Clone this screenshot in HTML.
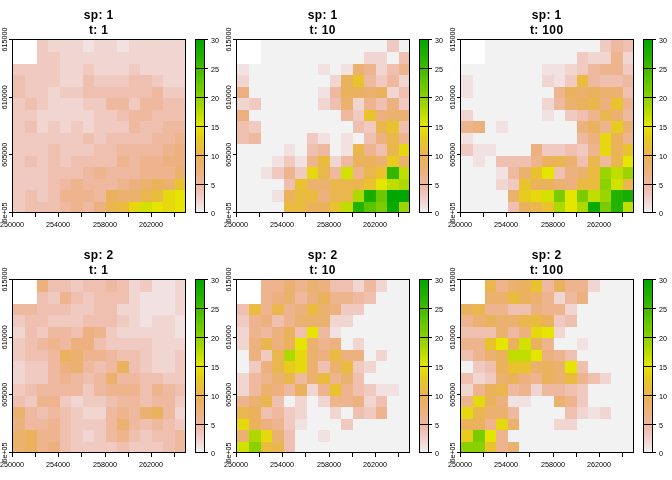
<!DOCTYPE html><html><head><meta charset="utf-8"><title>plot</title><style>html,body{margin:0;padding:0;background:#fff}svg{display:block}text{font-family:"Liberation Sans",Arial,sans-serif;fill:#000}.t{font-weight:bold;font-size:12px;text-anchor:middle;letter-spacing:0.35px}.a{font-size:7.2px;text-anchor:middle}.l{font-size:7.2px}</style></head><body>
<svg width="672" height="480" viewBox="0 0 672 480">
<rect width="672" height="480" fill="#fff"/>
<defs><linearGradient id="g" x1="0" y1="0" x2="0" y2="1"><stop offset="0.0000" stop-color="#00A600"/><stop offset="0.0333" stop-color="#0BAA00"/><stop offset="0.0667" stop-color="#17AE00"/><stop offset="0.1000" stop-color="#24B200"/><stop offset="0.1333" stop-color="#31B700"/><stop offset="0.1667" stop-color="#3EBB00"/><stop offset="0.2000" stop-color="#4CBF00"/><stop offset="0.2333" stop-color="#5BC400"/><stop offset="0.2667" stop-color="#6BC800"/><stop offset="0.3000" stop-color="#7ACC00"/><stop offset="0.3333" stop-color="#8BD000"/><stop offset="0.3667" stop-color="#9CD400"/><stop offset="0.4000" stop-color="#ADD900"/><stop offset="0.4333" stop-color="#C0DD00"/><stop offset="0.4667" stop-color="#D2E100"/><stop offset="0.5000" stop-color="#E5E500"/><stop offset="0.5333" stop-color="#E6D80F"/><stop offset="0.5667" stop-color="#E7CC1F"/><stop offset="0.6000" stop-color="#E8C32E"/><stop offset="0.6333" stop-color="#E9BB3E"/><stop offset="0.6667" stop-color="#EAB64E"/><stop offset="0.7000" stop-color="#EBB25E"/><stop offset="0.7333" stop-color="#EBB16E"/><stop offset="0.7667" stop-color="#ECB17E"/><stop offset="0.8000" stop-color="#EDB48E"/><stop offset="0.8333" stop-color="#EEB99F"/><stop offset="0.8667" stop-color="#EFC0AF"/><stop offset="0.9000" stop-color="#F0C9C0"/><stop offset="0.9333" stop-color="#F1D5D0"/><stop offset="0.9667" stop-color="#F1E2E1"/><stop offset="1.0000" stop-color="#F2F2F2"/></linearGradient></defs>
<g transform="translate(0,0)">
<text class="t" x="98.7" y="18.6">sp: 1</text>
<text class="t" x="98.7" y="33.5">t: 1</text>
<g shape-rendering="crispEdges">
<rect x="37" y="40" width="11" height="12" fill="#F0C9C0"/>
<rect x="48" y="40" width="35" height="12" fill="#F1D5D0"/>
<rect x="83" y="40" width="11" height="12" fill="#F1E2E1"/>
<rect x="94" y="40" width="23" height="12" fill="#F1D5D0"/>
<rect x="117" y="40" width="12" height="12" fill="#F1E2E1"/>
<rect x="129" y="40" width="57" height="12" fill="#F1D5D0"/>
<rect x="37" y="52" width="23" height="12" fill="#F0C9C0"/>
<rect x="60" y="52" width="126" height="12" fill="#F1D5D0"/>
<rect x="13" y="64" width="47" height="11" fill="#F0C9C0"/>
<rect x="60" y="64" width="23" height="11" fill="#F1D5D0"/>
<rect x="83" y="64" width="11" height="11" fill="#F0C9C0"/>
<rect x="94" y="64" width="35" height="11" fill="#F1D5D0"/>
<rect x="129" y="64" width="11" height="11" fill="#F0C9C0"/>
<rect x="140" y="64" width="46" height="11" fill="#F1D5D0"/>
<rect x="13" y="75" width="12" height="12" fill="#EFC0AF"/>
<rect x="25" y="75" width="35" height="12" fill="#F0C9C0"/>
<rect x="60" y="75" width="23" height="12" fill="#F1D5D0"/>
<rect x="83" y="75" width="11" height="12" fill="#EFC0AF"/>
<rect x="94" y="75" width="35" height="12" fill="#F0C9C0"/>
<rect x="129" y="75" width="23" height="12" fill="#EFC0AF"/>
<rect x="152" y="75" width="11" height="12" fill="#F0C9C0"/>
<rect x="163" y="75" width="23" height="12" fill="#F1D5D0"/>
<rect x="13" y="87" width="12" height="11" fill="#EFC0AF"/>
<rect x="25" y="87" width="23" height="11" fill="#F0C9C0"/>
<rect x="48" y="87" width="12" height="11" fill="#F1D5D0"/>
<rect x="60" y="87" width="23" height="11" fill="#F0C9C0"/>
<rect x="83" y="87" width="69" height="11" fill="#EFC0AF"/>
<rect x="152" y="87" width="11" height="11" fill="#EEB99F"/>
<rect x="163" y="87" width="23" height="11" fill="#F0C9C0"/>
<rect x="13" y="98" width="12" height="12" fill="#F0C9C0"/>
<rect x="25" y="98" width="12" height="12" fill="#EFC0AF"/>
<rect x="37" y="98" width="11" height="12" fill="#F0C9C0"/>
<rect x="48" y="98" width="35" height="12" fill="#F1D5D0"/>
<rect x="83" y="98" width="23" height="12" fill="#F0C9C0"/>
<rect x="106" y="98" width="23" height="12" fill="#EEB99F"/>
<rect x="129" y="98" width="11" height="12" fill="#F0C9C0"/>
<rect x="140" y="98" width="23" height="12" fill="#EEB99F"/>
<rect x="163" y="98" width="23" height="12" fill="#EFC0AF"/>
<rect x="13" y="110" width="24" height="11" fill="#F0C9C0"/>
<rect x="37" y="110" width="57" height="11" fill="#F1D5D0"/>
<rect x="94" y="110" width="23" height="11" fill="#F0C9C0"/>
<rect x="117" y="110" width="12" height="11" fill="#EFC0AF"/>
<rect x="129" y="110" width="23" height="11" fill="#EEB99F"/>
<rect x="152" y="110" width="34" height="11" fill="#EFC0AF"/>
<rect x="13" y="121" width="12" height="12" fill="#F0C9C0"/>
<rect x="25" y="121" width="12" height="12" fill="#EFC0AF"/>
<rect x="37" y="121" width="11" height="12" fill="#F1D5D0"/>
<rect x="48" y="121" width="12" height="12" fill="#F0C9C0"/>
<rect x="60" y="121" width="11" height="12" fill="#F1D5D0"/>
<rect x="71" y="121" width="12" height="12" fill="#F0C9C0"/>
<rect x="83" y="121" width="11" height="12" fill="#F1D5D0"/>
<rect x="94" y="121" width="35" height="12" fill="#F0C9C0"/>
<rect x="129" y="121" width="11" height="12" fill="#EEB99F"/>
<rect x="140" y="121" width="23" height="12" fill="#EFC0AF"/>
<rect x="163" y="121" width="23" height="12" fill="#EEB99F"/>
<rect x="13" y="133" width="70" height="11" fill="#F0C9C0"/>
<rect x="83" y="133" width="11" height="11" fill="#EFC0AF"/>
<rect x="94" y="133" width="12" height="11" fill="#F0C9C0"/>
<rect x="106" y="133" width="46" height="11" fill="#EFC0AF"/>
<rect x="152" y="133" width="23" height="11" fill="#EEB99F"/>
<rect x="175" y="133" width="11" height="11" fill="#EDB48E"/>
<rect x="13" y="144" width="35" height="12" fill="#F0C9C0"/>
<rect x="48" y="144" width="12" height="12" fill="#EFC0AF"/>
<rect x="60" y="144" width="34" height="12" fill="#F0C9C0"/>
<rect x="94" y="144" width="23" height="12" fill="#EFC0AF"/>
<rect x="117" y="144" width="46" height="12" fill="#EEB99F"/>
<rect x="163" y="144" width="12" height="12" fill="#EDB48E"/>
<rect x="175" y="144" width="11" height="12" fill="#ECB17E"/>
<rect x="13" y="156" width="12" height="11" fill="#F0C9C0"/>
<rect x="25" y="156" width="12" height="11" fill="#EFC0AF"/>
<rect x="37" y="156" width="11" height="11" fill="#F0C9C0"/>
<rect x="48" y="156" width="12" height="11" fill="#EFC0AF"/>
<rect x="60" y="156" width="11" height="11" fill="#F0C9C0"/>
<rect x="71" y="156" width="46" height="11" fill="#EFC0AF"/>
<rect x="117" y="156" width="12" height="11" fill="#EDB48E"/>
<rect x="129" y="156" width="11" height="11" fill="#EEB99F"/>
<rect x="140" y="156" width="23" height="11" fill="#EDB48E"/>
<rect x="163" y="156" width="23" height="11" fill="#ECB17E"/>
<rect x="13" y="167" width="35" height="12" fill="#F0C9C0"/>
<rect x="48" y="167" width="35" height="12" fill="#EFC0AF"/>
<rect x="83" y="167" width="11" height="12" fill="#EEB99F"/>
<rect x="94" y="167" width="12" height="12" fill="#EDB48E"/>
<rect x="106" y="167" width="34" height="12" fill="#EEB99F"/>
<rect x="140" y="167" width="35" height="12" fill="#EDB48E"/>
<rect x="175" y="167" width="11" height="12" fill="#EBB16E"/>
<rect x="13" y="179" width="35" height="11" fill="#F0C9C0"/>
<rect x="48" y="179" width="12" height="11" fill="#EFC0AF"/>
<rect x="60" y="179" width="11" height="11" fill="#EEB99F"/>
<rect x="71" y="179" width="12" height="11" fill="#EDB48E"/>
<rect x="83" y="179" width="34" height="11" fill="#EEB99F"/>
<rect x="117" y="179" width="12" height="11" fill="#EDB48E"/>
<rect x="129" y="179" width="11" height="11" fill="#ECB17E"/>
<rect x="140" y="179" width="12" height="11" fill="#EBB16E"/>
<rect x="152" y="179" width="11" height="11" fill="#EBB25E"/>
<rect x="163" y="179" width="12" height="11" fill="#EBB16E"/>
<rect x="175" y="179" width="11" height="11" fill="#E8C32E"/>
<rect x="13" y="190" width="12" height="12" fill="#F0C9C0"/>
<rect x="25" y="190" width="12" height="12" fill="#EFC0AF"/>
<rect x="37" y="190" width="11" height="12" fill="#F0C9C0"/>
<rect x="48" y="190" width="12" height="12" fill="#EFC0AF"/>
<rect x="60" y="190" width="34" height="12" fill="#EDB48E"/>
<rect x="94" y="190" width="12" height="12" fill="#EEB99F"/>
<rect x="106" y="190" width="11" height="12" fill="#EBB25E"/>
<rect x="117" y="190" width="23" height="12" fill="#EBB16E"/>
<rect x="140" y="190" width="12" height="12" fill="#EAB64E"/>
<rect x="152" y="190" width="11" height="12" fill="#E9BB3E"/>
<rect x="163" y="190" width="12" height="12" fill="#E6D80F"/>
<rect x="175" y="190" width="11" height="12" fill="#E5E500"/>
<rect x="13" y="202" width="12" height="11" fill="#F0C9C0"/>
<rect x="25" y="202" width="35" height="11" fill="#EFC0AF"/>
<rect x="60" y="202" width="11" height="11" fill="#EEB99F"/>
<rect x="71" y="202" width="12" height="11" fill="#EDB48E"/>
<rect x="83" y="202" width="11" height="11" fill="#EEB99F"/>
<rect x="94" y="202" width="12" height="11" fill="#ECB17E"/>
<rect x="106" y="202" width="11" height="11" fill="#EAB64E"/>
<rect x="117" y="202" width="12" height="11" fill="#E9BB3E"/>
<rect x="129" y="202" width="11" height="11" fill="#E6D80F"/>
<rect x="140" y="202" width="12" height="11" fill="#D2E100"/>
<rect x="152" y="202" width="11" height="11" fill="#E5E500"/>
<rect x="163" y="202" width="12" height="11" fill="#E6D80F"/>
<rect x="175" y="202" width="11" height="11" fill="#E5E500"/>
</g>
<rect x="12.5" y="39.5" width="173.0" height="173.0" fill="none" stroke="#000" stroke-width="1" shape-rendering="crispEdges"/>
<path d="M12.5 212V217M35.5 212V217M58.5 212V217M81.5 212V217M105.5 212V217M128.5 212V217M151.5 212V217M174.5 212V217M13 212.5H9M13 154.5H9M13 97.5H9M13 39.5H9" stroke="#000" stroke-width="1" fill="none" shape-rendering="crispEdges"/>
<text class="a" x="12.0" y="226.6">250000</text>
<text class="a" x="58.1" y="226.6">254000</text>
<text class="a" x="105.1" y="226.6">258000</text>
<text class="a" x="150.9" y="226.6">262000</text>
<text class="a" transform="translate(7.0,212.5) rotate(-90)">6e+05</text>
<text class="a" transform="translate(7.0,154.8) rotate(-90)">605000</text>
<text class="a" transform="translate(7.0,97.2) rotate(-90)">610000</text>
<text class="a" transform="translate(7.0,39.5) rotate(-90)">615000</text>
<rect x="195.5" y="39.5" width="9.0" height="173.0" fill="url(#g)" stroke="#000" stroke-width="1"/>
<text class="l" x="211" y="215.5">0</text>
<text class="l" x="211" y="187.5">5</text>
<text class="l" x="211" y="158.5">10</text>
<text class="l" x="211" y="129.5">15</text>
<text class="l" x="211" y="100.5">20</text>
<text class="l" x="211" y="71.5">25</text>
<text class="l" x="211" y="42.5">30</text>
<path d="M195.5 212.5H208M195.5 184.5H208M195.5 155.5H208M195.5 126.5H208M195.5 97.5H208M195.5 68.5H208M195.5 39.5H208" stroke="#000" stroke-width="1" fill="none" shape-rendering="crispEdges"/>
</g>
<g transform="translate(224,0)">
<text class="t" x="98.7" y="18.6">sp: 1</text>
<text class="t" x="98.7" y="33.5">t: 10</text>
<g shape-rendering="crispEdges">
<rect x="37" y="40" width="126" height="12" fill="#F2F2F2"/>
<rect x="163" y="40" width="12" height="12" fill="#F0C9C0"/>
<rect x="175" y="40" width="11" height="12" fill="#F2F2F2"/>
<rect x="37" y="52" width="103" height="12" fill="#F2F2F2"/>
<rect x="140" y="52" width="23" height="12" fill="#F1D5D0"/>
<rect x="163" y="52" width="12" height="12" fill="#F2F2F2"/>
<rect x="175" y="52" width="11" height="12" fill="#EFC0AF"/>
<rect x="13" y="64" width="12" height="11" fill="#F1E2E1"/>
<rect x="25" y="64" width="69" height="11" fill="#F2F2F2"/>
<rect x="94" y="64" width="12" height="11" fill="#F1E2E1"/>
<rect x="106" y="64" width="11" height="11" fill="#F2F2F2"/>
<rect x="117" y="64" width="12" height="11" fill="#F1E2E1"/>
<rect x="129" y="64" width="11" height="11" fill="#EBB16E"/>
<rect x="140" y="64" width="12" height="11" fill="#EDB48E"/>
<rect x="152" y="64" width="11" height="11" fill="#F1D5D0"/>
<rect x="163" y="64" width="12" height="11" fill="#EFC0AF"/>
<rect x="175" y="64" width="11" height="11" fill="#EDB48E"/>
<rect x="13" y="75" width="12" height="12" fill="#F1D5D0"/>
<rect x="25" y="75" width="81" height="12" fill="#F2F2F2"/>
<rect x="106" y="75" width="11" height="12" fill="#F1D5D0"/>
<rect x="117" y="75" width="12" height="12" fill="#EBB25E"/>
<rect x="129" y="75" width="11" height="12" fill="#E8C32E"/>
<rect x="140" y="75" width="12" height="12" fill="#EEB99F"/>
<rect x="152" y="75" width="11" height="12" fill="#F0C9C0"/>
<rect x="163" y="75" width="12" height="12" fill="#EEB99F"/>
<rect x="175" y="75" width="11" height="12" fill="#F1D5D0"/>
<rect x="13" y="87" width="12" height="11" fill="#ECB17E"/>
<rect x="25" y="87" width="69" height="11" fill="#F2F2F2"/>
<rect x="94" y="87" width="12" height="11" fill="#F1E2E1"/>
<rect x="106" y="87" width="11" height="11" fill="#EEB99F"/>
<rect x="117" y="87" width="23" height="11" fill="#EBB25E"/>
<rect x="140" y="87" width="12" height="11" fill="#EBB16E"/>
<rect x="152" y="87" width="11" height="11" fill="#EBB25E"/>
<rect x="163" y="87" width="12" height="11" fill="#F1D5D0"/>
<rect x="175" y="87" width="11" height="11" fill="#EFC0AF"/>
<rect x="13" y="98" width="12" height="12" fill="#F1D5D0"/>
<rect x="25" y="98" width="12" height="12" fill="#F0C9C0"/>
<rect x="37" y="98" width="57" height="12" fill="#F2F2F2"/>
<rect x="94" y="98" width="12" height="12" fill="#F1D5D0"/>
<rect x="106" y="98" width="11" height="12" fill="#EFC0AF"/>
<rect x="117" y="98" width="12" height="12" fill="#EBB16E"/>
<rect x="129" y="98" width="11" height="12" fill="#F1D5D0"/>
<rect x="140" y="98" width="12" height="12" fill="#EDB48E"/>
<rect x="152" y="98" width="11" height="12" fill="#EFC0AF"/>
<rect x="163" y="98" width="12" height="12" fill="#ECB17E"/>
<rect x="175" y="98" width="11" height="12" fill="#F0C9C0"/>
<rect x="13" y="110" width="12" height="11" fill="#ECB17E"/>
<rect x="25" y="110" width="92" height="11" fill="#F2F2F2"/>
<rect x="117" y="110" width="12" height="11" fill="#EEB99F"/>
<rect x="129" y="110" width="11" height="11" fill="#F0C9C0"/>
<rect x="140" y="110" width="12" height="11" fill="#E8C32E"/>
<rect x="152" y="110" width="11" height="11" fill="#ECB17E"/>
<rect x="163" y="110" width="23" height="11" fill="#EBB16E"/>
<rect x="13" y="121" width="12" height="12" fill="#EFC0AF"/>
<rect x="25" y="121" width="12" height="12" fill="#F0C9C0"/>
<rect x="37" y="121" width="92" height="12" fill="#F2F2F2"/>
<rect x="129" y="121" width="11" height="12" fill="#EFC0AF"/>
<rect x="140" y="121" width="12" height="12" fill="#F0C9C0"/>
<rect x="152" y="121" width="11" height="12" fill="#EAB64E"/>
<rect x="163" y="121" width="12" height="12" fill="#E8C32E"/>
<rect x="175" y="121" width="11" height="12" fill="#EFC0AF"/>
<rect x="13" y="133" width="12" height="11" fill="#EFC0AF"/>
<rect x="25" y="133" width="12" height="11" fill="#EEB99F"/>
<rect x="37" y="133" width="46" height="11" fill="#F2F2F2"/>
<rect x="83" y="133" width="11" height="11" fill="#F0C9C0"/>
<rect x="94" y="133" width="12" height="11" fill="#F1E2E1"/>
<rect x="106" y="133" width="11" height="11" fill="#F2F2F2"/>
<rect x="117" y="133" width="12" height="11" fill="#F1E2E1"/>
<rect x="129" y="133" width="11" height="11" fill="#F2F2F2"/>
<rect x="140" y="133" width="12" height="11" fill="#EFC0AF"/>
<rect x="152" y="133" width="11" height="11" fill="#ECB17E"/>
<rect x="163" y="133" width="12" height="11" fill="#EAB64E"/>
<rect x="175" y="133" width="11" height="11" fill="#EDB48E"/>
<rect x="13" y="144" width="47" height="12" fill="#F2F2F2"/>
<rect x="60" y="144" width="11" height="12" fill="#F1E2E1"/>
<rect x="71" y="144" width="12" height="12" fill="#F2F2F2"/>
<rect x="83" y="144" width="11" height="12" fill="#EFC0AF"/>
<rect x="94" y="144" width="12" height="12" fill="#EEB99F"/>
<rect x="106" y="144" width="11" height="12" fill="#F2F2F2"/>
<rect x="117" y="144" width="12" height="12" fill="#F1E2E1"/>
<rect x="129" y="144" width="11" height="12" fill="#EAB64E"/>
<rect x="140" y="144" width="12" height="12" fill="#EDB48E"/>
<rect x="152" y="144" width="11" height="12" fill="#EFC0AF"/>
<rect x="163" y="144" width="12" height="12" fill="#EAB64E"/>
<rect x="175" y="144" width="11" height="12" fill="#E6D80F"/>
<rect x="13" y="156" width="35" height="11" fill="#F2F2F2"/>
<rect x="48" y="156" width="12" height="11" fill="#F1E2E1"/>
<rect x="60" y="156" width="11" height="11" fill="#F0C9C0"/>
<rect x="71" y="156" width="12" height="11" fill="#F1E2E1"/>
<rect x="83" y="156" width="11" height="11" fill="#EDB48E"/>
<rect x="94" y="156" width="12" height="11" fill="#E9BB3E"/>
<rect x="106" y="156" width="11" height="11" fill="#F1D5D0"/>
<rect x="117" y="156" width="12" height="11" fill="#EEB99F"/>
<rect x="129" y="156" width="23" height="11" fill="#EBB25E"/>
<rect x="152" y="156" width="11" height="11" fill="#EBB16E"/>
<rect x="163" y="156" width="12" height="11" fill="#E7CC1F"/>
<rect x="175" y="156" width="11" height="11" fill="#EBB16E"/>
<rect x="13" y="167" width="24" height="12" fill="#F2F2F2"/>
<rect x="37" y="167" width="11" height="12" fill="#F1E2E1"/>
<rect x="48" y="167" width="12" height="12" fill="#F0C9C0"/>
<rect x="60" y="167" width="11" height="12" fill="#EDB48E"/>
<rect x="71" y="167" width="12" height="12" fill="#F0C9C0"/>
<rect x="83" y="167" width="11" height="12" fill="#E6D80F"/>
<rect x="94" y="167" width="12" height="12" fill="#EAB64E"/>
<rect x="106" y="167" width="11" height="12" fill="#EEB99F"/>
<rect x="117" y="167" width="12" height="12" fill="#D2E100"/>
<rect x="129" y="167" width="11" height="12" fill="#EDB48E"/>
<rect x="140" y="167" width="12" height="12" fill="#EAB64E"/>
<rect x="152" y="167" width="11" height="12" fill="#E8C32E"/>
<rect x="163" y="167" width="12" height="12" fill="#31B700"/>
<rect x="175" y="167" width="11" height="12" fill="#C0DD00"/>
<rect x="13" y="179" width="47" height="11" fill="#F2F2F2"/>
<rect x="60" y="179" width="11" height="11" fill="#EFC0AF"/>
<rect x="71" y="179" width="12" height="11" fill="#E8C32E"/>
<rect x="83" y="179" width="23" height="11" fill="#EBB16E"/>
<rect x="106" y="179" width="34" height="11" fill="#EAB64E"/>
<rect x="140" y="179" width="12" height="11" fill="#E8C32E"/>
<rect x="152" y="179" width="11" height="11" fill="#E5E500"/>
<rect x="163" y="179" width="12" height="11" fill="#C0DD00"/>
<rect x="175" y="179" width="11" height="11" fill="#ADD900"/>
<rect x="13" y="190" width="35" height="12" fill="#F2F2F2"/>
<rect x="48" y="190" width="12" height="12" fill="#F1E2E1"/>
<rect x="60" y="190" width="11" height="12" fill="#EBB25E"/>
<rect x="71" y="190" width="23" height="12" fill="#E9BB3E"/>
<rect x="94" y="190" width="12" height="12" fill="#ECB17E"/>
<rect x="106" y="190" width="23" height="12" fill="#EAB64E"/>
<rect x="129" y="190" width="11" height="12" fill="#ADD900"/>
<rect x="140" y="190" width="12" height="12" fill="#17AE00"/>
<rect x="152" y="190" width="11" height="12" fill="#6BC800"/>
<rect x="163" y="190" width="23" height="12" fill="#00A600"/>
<rect x="13" y="202" width="47" height="11" fill="#F2F2F2"/>
<rect x="60" y="202" width="23" height="11" fill="#E9BB3E"/>
<rect x="83" y="202" width="23" height="11" fill="#EBB25E"/>
<rect x="106" y="202" width="11" height="11" fill="#E8C32E"/>
<rect x="117" y="202" width="12" height="11" fill="#C0DD00"/>
<rect x="129" y="202" width="11" height="11" fill="#24B200"/>
<rect x="140" y="202" width="12" height="11" fill="#5BC400"/>
<rect x="152" y="202" width="11" height="11" fill="#7ACC00"/>
<rect x="163" y="202" width="12" height="11" fill="#0BAA00"/>
<rect x="175" y="202" width="11" height="11" fill="#9CD400"/>
</g>
<rect x="12.5" y="39.5" width="173.0" height="173.0" fill="none" stroke="#000" stroke-width="1" shape-rendering="crispEdges"/>
<path d="M12.5 212V217M35.5 212V217M58.5 212V217M81.5 212V217M105.5 212V217M128.5 212V217M151.5 212V217M174.5 212V217M13 212.5H9M13 154.5H9M13 97.5H9M13 39.5H9" stroke="#000" stroke-width="1" fill="none" shape-rendering="crispEdges"/>
<text class="a" x="12.0" y="226.6">250000</text>
<text class="a" x="58.1" y="226.6">254000</text>
<text class="a" x="105.1" y="226.6">258000</text>
<text class="a" x="150.9" y="226.6">262000</text>
<text class="a" transform="translate(7.0,212.5) rotate(-90)">6e+05</text>
<text class="a" transform="translate(7.0,154.8) rotate(-90)">605000</text>
<text class="a" transform="translate(7.0,97.2) rotate(-90)">610000</text>
<text class="a" transform="translate(7.0,39.5) rotate(-90)">615000</text>
<rect x="195.5" y="39.5" width="9.0" height="173.0" fill="url(#g)" stroke="#000" stroke-width="1"/>
<text class="l" x="211" y="215.5">0</text>
<text class="l" x="211" y="187.5">5</text>
<text class="l" x="211" y="158.5">10</text>
<text class="l" x="211" y="129.5">15</text>
<text class="l" x="211" y="100.5">20</text>
<text class="l" x="211" y="71.5">25</text>
<text class="l" x="211" y="42.5">30</text>
<path d="M195.5 212.5H208M195.5 184.5H208M195.5 155.5H208M195.5 126.5H208M195.5 97.5H208M195.5 68.5H208M195.5 39.5H208" stroke="#000" stroke-width="1" fill="none" shape-rendering="crispEdges"/>
</g>
<g transform="translate(448,0)">
<text class="t" x="98.7" y="18.6">sp: 1</text>
<text class="t" x="98.7" y="33.5">t: 100</text>
<g shape-rendering="crispEdges">
<rect x="37" y="40" width="115" height="12" fill="#F2F2F2"/>
<rect x="152" y="40" width="11" height="12" fill="#F0C9C0"/>
<rect x="163" y="40" width="12" height="12" fill="#EEB99F"/>
<rect x="175" y="40" width="11" height="12" fill="#EFC0AF"/>
<rect x="37" y="52" width="92" height="12" fill="#F2F2F2"/>
<rect x="129" y="52" width="11" height="12" fill="#F0C9C0"/>
<rect x="140" y="52" width="23" height="12" fill="#F1D5D0"/>
<rect x="163" y="52" width="12" height="12" fill="#EDB48E"/>
<rect x="175" y="52" width="11" height="12" fill="#F1D5D0"/>
<rect x="13" y="64" width="81" height="11" fill="#F2F2F2"/>
<rect x="94" y="64" width="23" height="11" fill="#F1E2E1"/>
<rect x="117" y="64" width="12" height="11" fill="#F1D5D0"/>
<rect x="129" y="64" width="11" height="11" fill="#F0C9C0"/>
<rect x="140" y="64" width="12" height="11" fill="#EEB99F"/>
<rect x="152" y="64" width="23" height="11" fill="#EDB48E"/>
<rect x="175" y="64" width="11" height="11" fill="#F0C9C0"/>
<rect x="13" y="75" width="12" height="12" fill="#F1E2E1"/>
<rect x="25" y="75" width="69" height="12" fill="#F2F2F2"/>
<rect x="94" y="75" width="12" height="12" fill="#F1D5D0"/>
<rect x="106" y="75" width="11" height="12" fill="#F1E2E1"/>
<rect x="117" y="75" width="12" height="12" fill="#F0C9C0"/>
<rect x="129" y="75" width="11" height="12" fill="#E9BB3E"/>
<rect x="140" y="75" width="12" height="12" fill="#EEB99F"/>
<rect x="152" y="75" width="23" height="12" fill="#EFC0AF"/>
<rect x="175" y="75" width="11" height="12" fill="#EEB99F"/>
<rect x="13" y="87" width="12" height="11" fill="#F1E2E1"/>
<rect x="25" y="87" width="81" height="11" fill="#F2F2F2"/>
<rect x="106" y="87" width="11" height="11" fill="#EDB48E"/>
<rect x="117" y="87" width="12" height="11" fill="#EBB25E"/>
<rect x="129" y="87" width="11" height="11" fill="#EBB16E"/>
<rect x="140" y="87" width="12" height="11" fill="#EBB25E"/>
<rect x="152" y="87" width="23" height="11" fill="#EBB16E"/>
<rect x="175" y="87" width="11" height="11" fill="#EFC0AF"/>
<rect x="13" y="98" width="81" height="12" fill="#F2F2F2"/>
<rect x="94" y="98" width="12" height="12" fill="#F1D5D0"/>
<rect x="106" y="98" width="11" height="12" fill="#EEB99F"/>
<rect x="117" y="98" width="12" height="12" fill="#EBB16E"/>
<rect x="129" y="98" width="11" height="12" fill="#EBB25E"/>
<rect x="140" y="98" width="12" height="12" fill="#EAB64E"/>
<rect x="152" y="98" width="11" height="12" fill="#ECB17E"/>
<rect x="163" y="98" width="12" height="12" fill="#E8C32E"/>
<rect x="175" y="98" width="11" height="12" fill="#EDB48E"/>
<rect x="13" y="110" width="12" height="11" fill="#F1D5D0"/>
<rect x="25" y="110" width="69" height="11" fill="#F2F2F2"/>
<rect x="94" y="110" width="12" height="11" fill="#F1E2E1"/>
<rect x="106" y="110" width="11" height="11" fill="#F2F2F2"/>
<rect x="117" y="110" width="12" height="11" fill="#F0C9C0"/>
<rect x="129" y="110" width="11" height="11" fill="#EFC0AF"/>
<rect x="140" y="110" width="12" height="11" fill="#EDB48E"/>
<rect x="152" y="110" width="11" height="11" fill="#EAB64E"/>
<rect x="163" y="110" width="12" height="11" fill="#EBB16E"/>
<rect x="175" y="110" width="11" height="11" fill="#EEB99F"/>
<rect x="13" y="121" width="12" height="12" fill="#EDB48E"/>
<rect x="25" y="121" width="12" height="12" fill="#ECB17E"/>
<rect x="37" y="121" width="11" height="12" fill="#F2F2F2"/>
<rect x="48" y="121" width="12" height="12" fill="#F1E2E1"/>
<rect x="60" y="121" width="69" height="12" fill="#F2F2F2"/>
<rect x="129" y="121" width="11" height="12" fill="#ECB17E"/>
<rect x="140" y="121" width="12" height="12" fill="#EBB25E"/>
<rect x="152" y="121" width="11" height="12" fill="#EDB48E"/>
<rect x="163" y="121" width="12" height="12" fill="#E7CC1F"/>
<rect x="175" y="121" width="11" height="12" fill="#EBB16E"/>
<rect x="13" y="133" width="12" height="11" fill="#F1E2E1"/>
<rect x="25" y="133" width="104" height="11" fill="#F2F2F2"/>
<rect x="129" y="133" width="11" height="11" fill="#EEB99F"/>
<rect x="140" y="133" width="12" height="11" fill="#ECB17E"/>
<rect x="152" y="133" width="11" height="11" fill="#E6D80F"/>
<rect x="163" y="133" width="12" height="11" fill="#EBB25E"/>
<rect x="175" y="133" width="11" height="11" fill="#EDB48E"/>
<rect x="13" y="144" width="12" height="12" fill="#F0C9C0"/>
<rect x="25" y="144" width="23" height="12" fill="#F1E2E1"/>
<rect x="48" y="144" width="35" height="12" fill="#F2F2F2"/>
<rect x="83" y="144" width="11" height="12" fill="#ECB17E"/>
<rect x="94" y="144" width="23" height="12" fill="#F0C9C0"/>
<rect x="117" y="144" width="12" height="12" fill="#EFC0AF"/>
<rect x="129" y="144" width="11" height="12" fill="#F0C9C0"/>
<rect x="140" y="144" width="12" height="12" fill="#EDB48E"/>
<rect x="152" y="144" width="11" height="12" fill="#E6D80F"/>
<rect x="163" y="144" width="12" height="12" fill="#EBB25E"/>
<rect x="175" y="144" width="11" height="12" fill="#E8C32E"/>
<rect x="13" y="156" width="12" height="11" fill="#F2F2F2"/>
<rect x="25" y="156" width="12" height="11" fill="#F1E2E1"/>
<rect x="37" y="156" width="11" height="11" fill="#F2F2F2"/>
<rect x="48" y="156" width="35" height="11" fill="#EFC0AF"/>
<rect x="83" y="156" width="11" height="11" fill="#EDB48E"/>
<rect x="94" y="156" width="12" height="11" fill="#EBB25E"/>
<rect x="106" y="156" width="11" height="11" fill="#EAB64E"/>
<rect x="117" y="156" width="12" height="11" fill="#EBB16E"/>
<rect x="129" y="156" width="11" height="11" fill="#EFC0AF"/>
<rect x="140" y="156" width="12" height="11" fill="#EAB64E"/>
<rect x="152" y="156" width="11" height="11" fill="#EEB99F"/>
<rect x="163" y="156" width="12" height="11" fill="#EAB64E"/>
<rect x="175" y="156" width="11" height="11" fill="#E5E500"/>
<rect x="13" y="167" width="35" height="12" fill="#F2F2F2"/>
<rect x="48" y="167" width="12" height="12" fill="#F1E2E1"/>
<rect x="60" y="167" width="11" height="12" fill="#EEB99F"/>
<rect x="71" y="167" width="12" height="12" fill="#EBB16E"/>
<rect x="83" y="167" width="11" height="12" fill="#E8C32E"/>
<rect x="94" y="167" width="12" height="12" fill="#E5E500"/>
<rect x="106" y="167" width="11" height="12" fill="#EFC0AF"/>
<rect x="117" y="167" width="12" height="12" fill="#ECB17E"/>
<rect x="129" y="167" width="11" height="12" fill="#EBB16E"/>
<rect x="140" y="167" width="12" height="12" fill="#E9BB3E"/>
<rect x="152" y="167" width="11" height="12" fill="#9CD400"/>
<rect x="163" y="167" width="12" height="12" fill="#C0DD00"/>
<rect x="175" y="167" width="11" height="12" fill="#9CD400"/>
<rect x="13" y="179" width="35" height="11" fill="#F2F2F2"/>
<rect x="48" y="179" width="12" height="11" fill="#F1D5D0"/>
<rect x="60" y="179" width="11" height="11" fill="#F0C9C0"/>
<rect x="71" y="179" width="12" height="11" fill="#E8C32E"/>
<rect x="83" y="179" width="23" height="11" fill="#EBB25E"/>
<rect x="106" y="179" width="11" height="11" fill="#EBB16E"/>
<rect x="117" y="179" width="12" height="11" fill="#ECB17E"/>
<rect x="129" y="179" width="23" height="11" fill="#E9BB3E"/>
<rect x="152" y="179" width="11" height="11" fill="#8BD000"/>
<rect x="163" y="179" width="12" height="11" fill="#D2E100"/>
<rect x="175" y="179" width="11" height="11" fill="#EAB64E"/>
<rect x="13" y="190" width="47" height="12" fill="#F2F2F2"/>
<rect x="60" y="190" width="11" height="12" fill="#EBB16E"/>
<rect x="71" y="190" width="12" height="12" fill="#E7CC1F"/>
<rect x="83" y="190" width="11" height="12" fill="#E6D80F"/>
<rect x="94" y="190" width="12" height="12" fill="#D2E100"/>
<rect x="106" y="190" width="11" height="12" fill="#7ACC00"/>
<rect x="117" y="190" width="12" height="12" fill="#E5E500"/>
<rect x="129" y="190" width="11" height="12" fill="#7ACC00"/>
<rect x="140" y="190" width="12" height="12" fill="#C0DD00"/>
<rect x="152" y="190" width="11" height="12" fill="#9CD400"/>
<rect x="163" y="190" width="12" height="12" fill="#24B200"/>
<rect x="175" y="190" width="11" height="12" fill="#17AE00"/>
<rect x="13" y="202" width="47" height="11" fill="#F2F2F2"/>
<rect x="60" y="202" width="11" height="11" fill="#EFC0AF"/>
<rect x="71" y="202" width="12" height="11" fill="#EBB25E"/>
<rect x="83" y="202" width="11" height="11" fill="#EAB64E"/>
<rect x="94" y="202" width="12" height="11" fill="#E8C32E"/>
<rect x="106" y="202" width="11" height="11" fill="#ADD900"/>
<rect x="117" y="202" width="12" height="11" fill="#E5E500"/>
<rect x="129" y="202" width="11" height="11" fill="#ADD900"/>
<rect x="140" y="202" width="12" height="11" fill="#0BAA00"/>
<rect x="152" y="202" width="11" height="11" fill="#7ACC00"/>
<rect x="163" y="202" width="12" height="11" fill="#24B200"/>
<rect x="175" y="202" width="11" height="11" fill="#C0DD00"/>
</g>
<rect x="12.5" y="39.5" width="173.0" height="173.0" fill="none" stroke="#000" stroke-width="1" shape-rendering="crispEdges"/>
<path d="M12.5 212V217M35.5 212V217M58.5 212V217M81.5 212V217M105.5 212V217M128.5 212V217M151.5 212V217M174.5 212V217M13 212.5H9M13 154.5H9M13 97.5H9M13 39.5H9" stroke="#000" stroke-width="1" fill="none" shape-rendering="crispEdges"/>
<text class="a" x="12.0" y="226.6">250000</text>
<text class="a" x="58.1" y="226.6">254000</text>
<text class="a" x="105.1" y="226.6">258000</text>
<text class="a" x="150.9" y="226.6">262000</text>
<text class="a" transform="translate(7.0,212.5) rotate(-90)">6e+05</text>
<text class="a" transform="translate(7.0,154.8) rotate(-90)">605000</text>
<text class="a" transform="translate(7.0,97.2) rotate(-90)">610000</text>
<text class="a" transform="translate(7.0,39.5) rotate(-90)">615000</text>
<rect x="195.5" y="39.5" width="9.0" height="173.0" fill="url(#g)" stroke="#000" stroke-width="1"/>
<text class="l" x="211" y="215.5">0</text>
<text class="l" x="211" y="187.5">5</text>
<text class="l" x="211" y="158.5">10</text>
<text class="l" x="211" y="129.5">15</text>
<text class="l" x="211" y="100.5">20</text>
<text class="l" x="211" y="71.5">25</text>
<text class="l" x="211" y="42.5">30</text>
<path d="M195.5 212.5H208M195.5 184.5H208M195.5 155.5H208M195.5 126.5H208M195.5 97.5H208M195.5 68.5H208M195.5 39.5H208" stroke="#000" stroke-width="1" fill="none" shape-rendering="crispEdges"/>
</g>
<g transform="translate(0,240)">
<text class="t" x="98.7" y="18.6">sp: 2</text>
<text class="t" x="98.7" y="33.5">t: 1</text>
<g shape-rendering="crispEdges">
<rect x="37" y="40" width="11" height="12" fill="#ECB17E"/>
<rect x="48" y="40" width="23" height="12" fill="#EFC0AF"/>
<rect x="71" y="40" width="12" height="12" fill="#F0C9C0"/>
<rect x="83" y="40" width="23" height="12" fill="#EFC0AF"/>
<rect x="106" y="40" width="11" height="12" fill="#EEB99F"/>
<rect x="117" y="40" width="12" height="12" fill="#EFC0AF"/>
<rect x="129" y="40" width="11" height="12" fill="#F1D5D0"/>
<rect x="140" y="40" width="12" height="12" fill="#F0C9C0"/>
<rect x="152" y="40" width="23" height="12" fill="#F1E2E1"/>
<rect x="175" y="40" width="11" height="12" fill="#F1D5D0"/>
<rect x="37" y="52" width="11" height="12" fill="#EFC0AF"/>
<rect x="48" y="52" width="12" height="12" fill="#F0C9C0"/>
<rect x="60" y="52" width="11" height="12" fill="#EDB48E"/>
<rect x="71" y="52" width="12" height="12" fill="#EFC0AF"/>
<rect x="83" y="52" width="11" height="12" fill="#F0C9C0"/>
<rect x="94" y="52" width="35" height="12" fill="#EFC0AF"/>
<rect x="129" y="52" width="11" height="12" fill="#F1D5D0"/>
<rect x="140" y="52" width="35" height="12" fill="#F1E2E1"/>
<rect x="175" y="52" width="11" height="12" fill="#F1D5D0"/>
<rect x="13" y="64" width="24" height="11" fill="#EEB99F"/>
<rect x="37" y="64" width="34" height="11" fill="#EFC0AF"/>
<rect x="71" y="64" width="23" height="11" fill="#F0C9C0"/>
<rect x="94" y="64" width="23" height="11" fill="#EFC0AF"/>
<rect x="117" y="64" width="23" height="11" fill="#F1D5D0"/>
<rect x="140" y="64" width="35" height="11" fill="#F1E2E1"/>
<rect x="175" y="64" width="11" height="11" fill="#F1D5D0"/>
<rect x="13" y="75" width="12" height="12" fill="#F0C9C0"/>
<rect x="25" y="75" width="23" height="12" fill="#EFC0AF"/>
<rect x="48" y="75" width="35" height="12" fill="#F0C9C0"/>
<rect x="83" y="75" width="34" height="12" fill="#EFC0AF"/>
<rect x="117" y="75" width="12" height="12" fill="#F0C9C0"/>
<rect x="129" y="75" width="11" height="12" fill="#F1D5D0"/>
<rect x="140" y="75" width="12" height="12" fill="#F1E2E1"/>
<rect x="152" y="75" width="23" height="12" fill="#F1D5D0"/>
<rect x="175" y="75" width="11" height="12" fill="#F1E2E1"/>
<rect x="13" y="87" width="12" height="11" fill="#F1D5D0"/>
<rect x="25" y="87" width="12" height="11" fill="#EFC0AF"/>
<rect x="37" y="87" width="11" height="11" fill="#F0C9C0"/>
<rect x="48" y="87" width="23" height="11" fill="#EEB99F"/>
<rect x="71" y="87" width="12" height="11" fill="#EFC0AF"/>
<rect x="83" y="87" width="11" height="11" fill="#ECB17E"/>
<rect x="94" y="87" width="12" height="11" fill="#EDB48E"/>
<rect x="106" y="87" width="11" height="11" fill="#F0C9C0"/>
<rect x="117" y="87" width="58" height="11" fill="#F1D5D0"/>
<rect x="175" y="87" width="11" height="11" fill="#F1E2E1"/>
<rect x="13" y="98" width="12" height="12" fill="#F0C9C0"/>
<rect x="25" y="98" width="12" height="12" fill="#EFC0AF"/>
<rect x="37" y="98" width="11" height="12" fill="#EEB99F"/>
<rect x="48" y="98" width="12" height="12" fill="#EDB48E"/>
<rect x="60" y="98" width="11" height="12" fill="#EEB99F"/>
<rect x="71" y="98" width="23" height="12" fill="#ECB17E"/>
<rect x="94" y="98" width="12" height="12" fill="#EFC0AF"/>
<rect x="106" y="98" width="46" height="12" fill="#F0C9C0"/>
<rect x="152" y="98" width="34" height="12" fill="#F1D5D0"/>
<rect x="13" y="110" width="12" height="11" fill="#F0C9C0"/>
<rect x="25" y="110" width="23" height="11" fill="#EFC0AF"/>
<rect x="48" y="110" width="12" height="11" fill="#EEB99F"/>
<rect x="60" y="110" width="11" height="11" fill="#EBB25E"/>
<rect x="71" y="110" width="12" height="11" fill="#EBB16E"/>
<rect x="83" y="110" width="23" height="11" fill="#EDB48E"/>
<rect x="106" y="110" width="11" height="11" fill="#EEB99F"/>
<rect x="117" y="110" width="23" height="11" fill="#EFC0AF"/>
<rect x="140" y="110" width="12" height="11" fill="#F0C9C0"/>
<rect x="152" y="110" width="23" height="11" fill="#F1D5D0"/>
<rect x="175" y="110" width="11" height="11" fill="#F0C9C0"/>
<rect x="13" y="121" width="12" height="12" fill="#F1D5D0"/>
<rect x="25" y="121" width="23" height="12" fill="#F0C9C0"/>
<rect x="48" y="121" width="12" height="12" fill="#EEB99F"/>
<rect x="60" y="121" width="11" height="12" fill="#ECB17E"/>
<rect x="71" y="121" width="12" height="12" fill="#EBB16E"/>
<rect x="83" y="121" width="11" height="12" fill="#EEB99F"/>
<rect x="94" y="121" width="12" height="12" fill="#EFC0AF"/>
<rect x="106" y="121" width="11" height="12" fill="#EEB99F"/>
<rect x="117" y="121" width="12" height="12" fill="#EBB25E"/>
<rect x="129" y="121" width="11" height="12" fill="#EFC0AF"/>
<rect x="140" y="121" width="12" height="12" fill="#F0C9C0"/>
<rect x="152" y="121" width="23" height="12" fill="#F1D5D0"/>
<rect x="175" y="121" width="11" height="12" fill="#F0C9C0"/>
<rect x="13" y="133" width="12" height="11" fill="#F1D5D0"/>
<rect x="25" y="133" width="23" height="11" fill="#F0C9C0"/>
<rect x="48" y="133" width="12" height="11" fill="#EEB99F"/>
<rect x="60" y="133" width="11" height="11" fill="#EDB48E"/>
<rect x="71" y="133" width="12" height="11" fill="#EEB99F"/>
<rect x="83" y="133" width="11" height="11" fill="#EFC0AF"/>
<rect x="94" y="133" width="12" height="11" fill="#EEB99F"/>
<rect x="106" y="133" width="11" height="11" fill="#EBB16E"/>
<rect x="117" y="133" width="23" height="11" fill="#EEB99F"/>
<rect x="140" y="133" width="23" height="11" fill="#EFC0AF"/>
<rect x="163" y="133" width="23" height="11" fill="#F0C9C0"/>
<rect x="13" y="144" width="12" height="12" fill="#F0C9C0"/>
<rect x="25" y="144" width="12" height="12" fill="#EFC0AF"/>
<rect x="37" y="144" width="46" height="12" fill="#EEB99F"/>
<rect x="83" y="144" width="11" height="12" fill="#F0C9C0"/>
<rect x="94" y="144" width="12" height="12" fill="#EEB99F"/>
<rect x="106" y="144" width="34" height="12" fill="#EDB48E"/>
<rect x="140" y="144" width="12" height="12" fill="#EFC0AF"/>
<rect x="152" y="144" width="11" height="12" fill="#EDB48E"/>
<rect x="163" y="144" width="12" height="12" fill="#EEB99F"/>
<rect x="175" y="144" width="11" height="12" fill="#EFC0AF"/>
<rect x="13" y="156" width="12" height="11" fill="#EFC0AF"/>
<rect x="25" y="156" width="12" height="11" fill="#F0C9C0"/>
<rect x="37" y="156" width="23" height="11" fill="#EDB48E"/>
<rect x="60" y="156" width="11" height="11" fill="#F0C9C0"/>
<rect x="71" y="156" width="12" height="11" fill="#F1D5D0"/>
<rect x="83" y="156" width="23" height="11" fill="#F0C9C0"/>
<rect x="106" y="156" width="11" height="11" fill="#EFC0AF"/>
<rect x="117" y="156" width="23" height="11" fill="#EEB99F"/>
<rect x="140" y="156" width="12" height="11" fill="#EFC0AF"/>
<rect x="152" y="156" width="23" height="11" fill="#EEB99F"/>
<rect x="175" y="156" width="11" height="11" fill="#F0C9C0"/>
<rect x="13" y="167" width="12" height="12" fill="#EBB16E"/>
<rect x="25" y="167" width="12" height="12" fill="#EEB99F"/>
<rect x="37" y="167" width="11" height="12" fill="#EFC0AF"/>
<rect x="48" y="167" width="12" height="12" fill="#EEB99F"/>
<rect x="60" y="167" width="11" height="12" fill="#EFC0AF"/>
<rect x="71" y="167" width="12" height="12" fill="#F0C9C0"/>
<rect x="83" y="167" width="23" height="12" fill="#F1D5D0"/>
<rect x="106" y="167" width="11" height="12" fill="#EEB99F"/>
<rect x="117" y="167" width="12" height="12" fill="#EDB48E"/>
<rect x="129" y="167" width="11" height="12" fill="#EEB99F"/>
<rect x="140" y="167" width="12" height="12" fill="#EBB16E"/>
<rect x="152" y="167" width="11" height="12" fill="#EBB25E"/>
<rect x="163" y="167" width="12" height="12" fill="#EEB99F"/>
<rect x="175" y="167" width="11" height="12" fill="#F1D5D0"/>
<rect x="13" y="179" width="12" height="11" fill="#ECB17E"/>
<rect x="25" y="179" width="23" height="11" fill="#EEB99F"/>
<rect x="48" y="179" width="12" height="11" fill="#EDB48E"/>
<rect x="60" y="179" width="11" height="11" fill="#EFC0AF"/>
<rect x="71" y="179" width="35" height="11" fill="#F0C9C0"/>
<rect x="106" y="179" width="11" height="11" fill="#EEB99F"/>
<rect x="117" y="179" width="12" height="11" fill="#EBB16E"/>
<rect x="129" y="179" width="11" height="11" fill="#EEB99F"/>
<rect x="140" y="179" width="12" height="11" fill="#EFC0AF"/>
<rect x="152" y="179" width="11" height="11" fill="#EEB99F"/>
<rect x="163" y="179" width="12" height="11" fill="#EFC0AF"/>
<rect x="175" y="179" width="11" height="11" fill="#F0C9C0"/>
<rect x="13" y="190" width="12" height="12" fill="#EBB16E"/>
<rect x="25" y="190" width="12" height="12" fill="#EBB25E"/>
<rect x="37" y="190" width="23" height="12" fill="#EDB48E"/>
<rect x="60" y="190" width="11" height="12" fill="#EFC0AF"/>
<rect x="71" y="190" width="12" height="12" fill="#F0C9C0"/>
<rect x="83" y="190" width="11" height="12" fill="#F1D5D0"/>
<rect x="94" y="190" width="12" height="12" fill="#F0C9C0"/>
<rect x="106" y="190" width="11" height="12" fill="#EEB99F"/>
<rect x="117" y="190" width="12" height="12" fill="#EDB48E"/>
<rect x="129" y="190" width="11" height="12" fill="#EFC0AF"/>
<rect x="140" y="190" width="12" height="12" fill="#F0C9C0"/>
<rect x="152" y="190" width="23" height="12" fill="#EFC0AF"/>
<rect x="175" y="190" width="11" height="12" fill="#EEB99F"/>
<rect x="13" y="202" width="12" height="11" fill="#EBB16E"/>
<rect x="25" y="202" width="12" height="11" fill="#EBB25E"/>
<rect x="37" y="202" width="11" height="11" fill="#EDB48E"/>
<rect x="48" y="202" width="12" height="11" fill="#ECB17E"/>
<rect x="60" y="202" width="11" height="11" fill="#EFC0AF"/>
<rect x="71" y="202" width="46" height="11" fill="#F0C9C0"/>
<rect x="117" y="202" width="12" height="11" fill="#EFC0AF"/>
<rect x="129" y="202" width="34" height="11" fill="#F0C9C0"/>
<rect x="163" y="202" width="12" height="11" fill="#EFC0AF"/>
<rect x="175" y="202" width="11" height="11" fill="#EEB99F"/>
</g>
<rect x="12.5" y="39.5" width="173.0" height="173.0" fill="none" stroke="#000" stroke-width="1" shape-rendering="crispEdges"/>
<path d="M12.5 212V217M35.5 212V217M58.5 212V217M81.5 212V217M105.5 212V217M128.5 212V217M151.5 212V217M174.5 212V217M13 212.5H9M13 154.5H9M13 97.5H9M13 39.5H9" stroke="#000" stroke-width="1" fill="none" shape-rendering="crispEdges"/>
<text class="a" x="12.0" y="226.6">250000</text>
<text class="a" x="58.1" y="226.6">254000</text>
<text class="a" x="105.1" y="226.6">258000</text>
<text class="a" x="150.9" y="226.6">262000</text>
<text class="a" transform="translate(7.0,212.5) rotate(-90)">6e+05</text>
<text class="a" transform="translate(7.0,154.8) rotate(-90)">605000</text>
<text class="a" transform="translate(7.0,97.2) rotate(-90)">610000</text>
<text class="a" transform="translate(7.0,39.5) rotate(-90)">615000</text>
<rect x="195.5" y="39.5" width="9.0" height="173.0" fill="url(#g)" stroke="#000" stroke-width="1"/>
<text class="l" x="211" y="215.5">0</text>
<text class="l" x="211" y="187.5">5</text>
<text class="l" x="211" y="158.5">10</text>
<text class="l" x="211" y="129.5">15</text>
<text class="l" x="211" y="100.5">20</text>
<text class="l" x="211" y="71.5">25</text>
<text class="l" x="211" y="42.5">30</text>
<path d="M195.5 212.5H208M195.5 184.5H208M195.5 155.5H208M195.5 126.5H208M195.5 97.5H208M195.5 68.5H208M195.5 39.5H208" stroke="#000" stroke-width="1" fill="none" shape-rendering="crispEdges"/>
</g>
<g transform="translate(224,240)">
<text class="t" x="98.7" y="18.6">sp: 2</text>
<text class="t" x="98.7" y="33.5">t: 10</text>
<g shape-rendering="crispEdges">
<rect x="37" y="40" width="23" height="12" fill="#EDB48E"/>
<rect x="60" y="40" width="11" height="12" fill="#EBB16E"/>
<rect x="71" y="40" width="12" height="12" fill="#EDB48E"/>
<rect x="83" y="40" width="11" height="12" fill="#EBB16E"/>
<rect x="94" y="40" width="12" height="12" fill="#ECB17E"/>
<rect x="106" y="40" width="23" height="12" fill="#EFC0AF"/>
<rect x="129" y="40" width="11" height="12" fill="#F1D5D0"/>
<rect x="140" y="40" width="12" height="12" fill="#EEB99F"/>
<rect x="152" y="40" width="11" height="12" fill="#F1D5D0"/>
<rect x="163" y="40" width="23" height="12" fill="#F2F2F2"/>
<rect x="37" y="52" width="11" height="12" fill="#EDB48E"/>
<rect x="48" y="52" width="12" height="12" fill="#ECB17E"/>
<rect x="60" y="52" width="11" height="12" fill="#EBB16E"/>
<rect x="71" y="52" width="12" height="12" fill="#EEB99F"/>
<rect x="83" y="52" width="11" height="12" fill="#ECB17E"/>
<rect x="94" y="52" width="12" height="12" fill="#EBB25E"/>
<rect x="106" y="52" width="23" height="12" fill="#EDB48E"/>
<rect x="129" y="52" width="11" height="12" fill="#EEB99F"/>
<rect x="140" y="52" width="12" height="12" fill="#EFC0AF"/>
<rect x="152" y="52" width="34" height="12" fill="#F2F2F2"/>
<rect x="13" y="64" width="12" height="11" fill="#EFC0AF"/>
<rect x="25" y="64" width="12" height="11" fill="#E9BB3E"/>
<rect x="37" y="64" width="11" height="11" fill="#EDB48E"/>
<rect x="48" y="64" width="12" height="11" fill="#EAB64E"/>
<rect x="60" y="64" width="11" height="11" fill="#EDB48E"/>
<rect x="71" y="64" width="12" height="11" fill="#ECB17E"/>
<rect x="83" y="64" width="11" height="11" fill="#E9BB3E"/>
<rect x="94" y="64" width="12" height="11" fill="#EBB16E"/>
<rect x="106" y="64" width="11" height="11" fill="#ECB17E"/>
<rect x="117" y="64" width="23" height="11" fill="#F0C9C0"/>
<rect x="140" y="64" width="46" height="11" fill="#F2F2F2"/>
<rect x="13" y="75" width="12" height="12" fill="#F0C9C0"/>
<rect x="25" y="75" width="12" height="12" fill="#EDB48E"/>
<rect x="37" y="75" width="11" height="12" fill="#ECB17E"/>
<rect x="48" y="75" width="12" height="12" fill="#EFC0AF"/>
<rect x="60" y="75" width="11" height="12" fill="#EDB48E"/>
<rect x="71" y="75" width="35" height="12" fill="#EBB16E"/>
<rect x="106" y="75" width="23" height="12" fill="#F1D5D0"/>
<rect x="129" y="75" width="57" height="12" fill="#F2F2F2"/>
<rect x="13" y="87" width="12" height="11" fill="#F1D5D0"/>
<rect x="25" y="87" width="12" height="11" fill="#EDB48E"/>
<rect x="37" y="87" width="11" height="11" fill="#EEB99F"/>
<rect x="48" y="87" width="12" height="11" fill="#ECB17E"/>
<rect x="60" y="87" width="11" height="11" fill="#EBB25E"/>
<rect x="71" y="87" width="12" height="11" fill="#EFC0AF"/>
<rect x="83" y="87" width="11" height="11" fill="#E5E500"/>
<rect x="94" y="87" width="12" height="11" fill="#EEB99F"/>
<rect x="106" y="87" width="11" height="11" fill="#F1E2E1"/>
<rect x="117" y="87" width="69" height="11" fill="#F2F2F2"/>
<rect x="13" y="98" width="12" height="12" fill="#F1D5D0"/>
<rect x="25" y="98" width="12" height="12" fill="#ECB17E"/>
<rect x="37" y="98" width="11" height="12" fill="#EAB64E"/>
<rect x="48" y="98" width="12" height="12" fill="#ECB17E"/>
<rect x="60" y="98" width="11" height="12" fill="#EBB25E"/>
<rect x="71" y="98" width="12" height="12" fill="#E5E500"/>
<rect x="83" y="98" width="11" height="12" fill="#EBB16E"/>
<rect x="94" y="98" width="12" height="12" fill="#EDB48E"/>
<rect x="106" y="98" width="11" height="12" fill="#ECB17E"/>
<rect x="117" y="98" width="12" height="12" fill="#F2F2F2"/>
<rect x="129" y="98" width="11" height="12" fill="#F1D5D0"/>
<rect x="140" y="98" width="46" height="12" fill="#F2F2F2"/>
<rect x="13" y="110" width="12" height="11" fill="#F2F2F2"/>
<rect x="25" y="110" width="12" height="11" fill="#ECB17E"/>
<rect x="37" y="110" width="11" height="11" fill="#F0C9C0"/>
<rect x="48" y="110" width="12" height="11" fill="#EAB64E"/>
<rect x="60" y="110" width="11" height="11" fill="#ADD900"/>
<rect x="71" y="110" width="12" height="11" fill="#E6D80F"/>
<rect x="83" y="110" width="11" height="11" fill="#EBB16E"/>
<rect x="94" y="110" width="12" height="11" fill="#ECB17E"/>
<rect x="106" y="110" width="11" height="11" fill="#E9BB3E"/>
<rect x="117" y="110" width="23" height="11" fill="#ECB17E"/>
<rect x="140" y="110" width="12" height="11" fill="#F2F2F2"/>
<rect x="152" y="110" width="11" height="11" fill="#F1D5D0"/>
<rect x="163" y="110" width="23" height="11" fill="#F2F2F2"/>
<rect x="13" y="121" width="12" height="12" fill="#F2F2F2"/>
<rect x="25" y="121" width="12" height="12" fill="#F0C9C0"/>
<rect x="37" y="121" width="11" height="12" fill="#ECB17E"/>
<rect x="48" y="121" width="12" height="12" fill="#EAB64E"/>
<rect x="60" y="121" width="11" height="12" fill="#E7CC1F"/>
<rect x="71" y="121" width="12" height="12" fill="#E6D80F"/>
<rect x="83" y="121" width="11" height="12" fill="#EBB16E"/>
<rect x="94" y="121" width="12" height="12" fill="#EFC0AF"/>
<rect x="106" y="121" width="11" height="12" fill="#EBB16E"/>
<rect x="117" y="121" width="12" height="12" fill="#E9BB3E"/>
<rect x="129" y="121" width="11" height="12" fill="#F0C9C0"/>
<rect x="140" y="121" width="12" height="12" fill="#F1D5D0"/>
<rect x="152" y="121" width="34" height="12" fill="#F2F2F2"/>
<rect x="13" y="133" width="12" height="11" fill="#F1D5D0"/>
<rect x="25" y="133" width="12" height="11" fill="#EEB99F"/>
<rect x="37" y="133" width="11" height="11" fill="#EDB48E"/>
<rect x="48" y="133" width="12" height="11" fill="#EBB16E"/>
<rect x="60" y="133" width="11" height="11" fill="#EAB64E"/>
<rect x="71" y="133" width="12" height="11" fill="#EEB99F"/>
<rect x="83" y="133" width="11" height="11" fill="#EBB16E"/>
<rect x="94" y="133" width="12" height="11" fill="#E9BB3E"/>
<rect x="106" y="133" width="11" height="11" fill="#EDB48E"/>
<rect x="117" y="133" width="12" height="11" fill="#EBB16E"/>
<rect x="129" y="133" width="11" height="11" fill="#EFC0AF"/>
<rect x="140" y="133" width="46" height="11" fill="#F2F2F2"/>
<rect x="13" y="144" width="12" height="12" fill="#F1D5D0"/>
<rect x="25" y="144" width="12" height="12" fill="#EEB99F"/>
<rect x="37" y="144" width="11" height="12" fill="#EBB16E"/>
<rect x="48" y="144" width="12" height="12" fill="#ECB17E"/>
<rect x="60" y="144" width="11" height="12" fill="#EEB99F"/>
<rect x="71" y="144" width="12" height="12" fill="#EBB25E"/>
<rect x="83" y="144" width="11" height="12" fill="#F1D5D0"/>
<rect x="94" y="144" width="12" height="12" fill="#EDB48E"/>
<rect x="106" y="144" width="11" height="12" fill="#E8C32E"/>
<rect x="117" y="144" width="12" height="12" fill="#EDB48E"/>
<rect x="129" y="144" width="11" height="12" fill="#EFC0AF"/>
<rect x="140" y="144" width="12" height="12" fill="#F0C9C0"/>
<rect x="152" y="144" width="23" height="12" fill="#F1E2E1"/>
<rect x="175" y="144" width="11" height="12" fill="#F2F2F2"/>
<rect x="13" y="156" width="12" height="11" fill="#EDB48E"/>
<rect x="25" y="156" width="12" height="11" fill="#EBB16E"/>
<rect x="37" y="156" width="11" height="11" fill="#EAB64E"/>
<rect x="48" y="156" width="12" height="11" fill="#EFC0AF"/>
<rect x="60" y="156" width="11" height="11" fill="#F2F2F2"/>
<rect x="71" y="156" width="12" height="11" fill="#F1D5D0"/>
<rect x="83" y="156" width="11" height="11" fill="#F2F2F2"/>
<rect x="94" y="156" width="12" height="11" fill="#F1D5D0"/>
<rect x="106" y="156" width="23" height="11" fill="#EDB48E"/>
<rect x="129" y="156" width="11" height="11" fill="#ECB17E"/>
<rect x="140" y="156" width="12" height="11" fill="#F1D5D0"/>
<rect x="152" y="156" width="11" height="11" fill="#EFC0AF"/>
<rect x="163" y="156" width="23" height="11" fill="#F2F2F2"/>
<rect x="13" y="167" width="12" height="12" fill="#EAB64E"/>
<rect x="25" y="167" width="12" height="12" fill="#EBB25E"/>
<rect x="37" y="167" width="11" height="12" fill="#EFC0AF"/>
<rect x="48" y="167" width="12" height="12" fill="#EEB99F"/>
<rect x="60" y="167" width="11" height="12" fill="#F0C9C0"/>
<rect x="71" y="167" width="12" height="12" fill="#F1D5D0"/>
<rect x="83" y="167" width="23" height="12" fill="#F2F2F2"/>
<rect x="106" y="167" width="11" height="12" fill="#F1D5D0"/>
<rect x="117" y="167" width="12" height="12" fill="#F2F2F2"/>
<rect x="129" y="167" width="11" height="12" fill="#EFC0AF"/>
<rect x="140" y="167" width="12" height="12" fill="#F0C9C0"/>
<rect x="152" y="167" width="11" height="12" fill="#EDB48E"/>
<rect x="163" y="167" width="23" height="12" fill="#F2F2F2"/>
<rect x="13" y="179" width="12" height="11" fill="#E6D80F"/>
<rect x="25" y="179" width="12" height="11" fill="#EBB25E"/>
<rect x="37" y="179" width="11" height="11" fill="#ECB17E"/>
<rect x="48" y="179" width="12" height="11" fill="#EDB48E"/>
<rect x="60" y="179" width="11" height="11" fill="#F0C9C0"/>
<rect x="71" y="179" width="12" height="11" fill="#F1E2E1"/>
<rect x="83" y="179" width="34" height="11" fill="#F2F2F2"/>
<rect x="117" y="179" width="12" height="11" fill="#F0C9C0"/>
<rect x="129" y="179" width="57" height="11" fill="#F2F2F2"/>
<rect x="13" y="190" width="12" height="12" fill="#EBB16E"/>
<rect x="25" y="190" width="12" height="12" fill="#ADD900"/>
<rect x="37" y="190" width="11" height="12" fill="#E6D80F"/>
<rect x="48" y="190" width="12" height="12" fill="#EBB16E"/>
<rect x="60" y="190" width="11" height="12" fill="#EFC0AF"/>
<rect x="71" y="190" width="23" height="12" fill="#F2F2F2"/>
<rect x="94" y="190" width="12" height="12" fill="#F1E2E1"/>
<rect x="106" y="190" width="80" height="12" fill="#F2F2F2"/>
<rect x="13" y="202" width="12" height="11" fill="#D2E100"/>
<rect x="25" y="202" width="12" height="11" fill="#8BD000"/>
<rect x="37" y="202" width="11" height="11" fill="#E9BB3E"/>
<rect x="48" y="202" width="12" height="11" fill="#EAB64E"/>
<rect x="60" y="202" width="11" height="11" fill="#EFC0AF"/>
<rect x="71" y="202" width="115" height="11" fill="#F2F2F2"/>
</g>
<rect x="12.5" y="39.5" width="173.0" height="173.0" fill="none" stroke="#000" stroke-width="1" shape-rendering="crispEdges"/>
<path d="M12.5 212V217M35.5 212V217M58.5 212V217M81.5 212V217M105.5 212V217M128.5 212V217M151.5 212V217M174.5 212V217M13 212.5H9M13 154.5H9M13 97.5H9M13 39.5H9" stroke="#000" stroke-width="1" fill="none" shape-rendering="crispEdges"/>
<text class="a" x="12.0" y="226.6">250000</text>
<text class="a" x="58.1" y="226.6">254000</text>
<text class="a" x="105.1" y="226.6">258000</text>
<text class="a" x="150.9" y="226.6">262000</text>
<text class="a" transform="translate(7.0,212.5) rotate(-90)">6e+05</text>
<text class="a" transform="translate(7.0,154.8) rotate(-90)">605000</text>
<text class="a" transform="translate(7.0,97.2) rotate(-90)">610000</text>
<text class="a" transform="translate(7.0,39.5) rotate(-90)">615000</text>
<rect x="195.5" y="39.5" width="9.0" height="173.0" fill="url(#g)" stroke="#000" stroke-width="1"/>
<text class="l" x="211" y="215.5">0</text>
<text class="l" x="211" y="187.5">5</text>
<text class="l" x="211" y="158.5">10</text>
<text class="l" x="211" y="129.5">15</text>
<text class="l" x="211" y="100.5">20</text>
<text class="l" x="211" y="71.5">25</text>
<text class="l" x="211" y="42.5">30</text>
<path d="M195.5 212.5H208M195.5 184.5H208M195.5 155.5H208M195.5 126.5H208M195.5 97.5H208M195.5 68.5H208M195.5 39.5H208" stroke="#000" stroke-width="1" fill="none" shape-rendering="crispEdges"/>
</g>
<g transform="translate(448,240)">
<text class="t" x="98.7" y="18.6">sp: 2</text>
<text class="t" x="98.7" y="33.5">t: 100</text>
<g shape-rendering="crispEdges">
<rect x="37" y="40" width="11" height="12" fill="#EAB64E"/>
<rect x="48" y="40" width="12" height="12" fill="#EDB48E"/>
<rect x="60" y="40" width="11" height="12" fill="#EBB16E"/>
<rect x="71" y="40" width="12" height="12" fill="#EBB25E"/>
<rect x="83" y="40" width="11" height="12" fill="#E8C32E"/>
<rect x="94" y="40" width="12" height="12" fill="#EEB99F"/>
<rect x="106" y="40" width="11" height="12" fill="#EBB25E"/>
<rect x="117" y="40" width="23" height="12" fill="#EDB48E"/>
<rect x="140" y="40" width="12" height="12" fill="#F1D5D0"/>
<rect x="152" y="40" width="34" height="12" fill="#F2F2F2"/>
<rect x="37" y="52" width="23" height="12" fill="#EBB16E"/>
<rect x="60" y="52" width="11" height="12" fill="#E9BB3E"/>
<rect x="71" y="52" width="12" height="12" fill="#EBB25E"/>
<rect x="83" y="52" width="11" height="12" fill="#EBB16E"/>
<rect x="94" y="52" width="12" height="12" fill="#EDB48E"/>
<rect x="106" y="52" width="11" height="12" fill="#F1D5D0"/>
<rect x="117" y="52" width="12" height="12" fill="#EEB99F"/>
<rect x="129" y="52" width="11" height="12" fill="#ECB17E"/>
<rect x="140" y="52" width="46" height="12" fill="#F2F2F2"/>
<rect x="13" y="64" width="12" height="11" fill="#EBB25E"/>
<rect x="25" y="64" width="12" height="11" fill="#EAB64E"/>
<rect x="37" y="64" width="23" height="11" fill="#EDB48E"/>
<rect x="60" y="64" width="23" height="11" fill="#EFC0AF"/>
<rect x="83" y="64" width="11" height="11" fill="#ECB17E"/>
<rect x="94" y="64" width="23" height="11" fill="#EDB48E"/>
<rect x="117" y="64" width="12" height="11" fill="#F1D5D0"/>
<rect x="129" y="64" width="57" height="11" fill="#F2F2F2"/>
<rect x="13" y="75" width="12" height="12" fill="#EDB48E"/>
<rect x="25" y="75" width="12" height="12" fill="#EBB16E"/>
<rect x="37" y="75" width="11" height="12" fill="#EBB25E"/>
<rect x="48" y="75" width="23" height="12" fill="#EBB16E"/>
<rect x="71" y="75" width="12" height="12" fill="#EAB64E"/>
<rect x="83" y="75" width="11" height="12" fill="#E9BB3E"/>
<rect x="94" y="75" width="12" height="12" fill="#EBB25E"/>
<rect x="106" y="75" width="11" height="12" fill="#F0C9C0"/>
<rect x="117" y="75" width="12" height="12" fill="#EFC0AF"/>
<rect x="129" y="75" width="57" height="12" fill="#F2F2F2"/>
<rect x="13" y="87" width="35" height="11" fill="#EFC0AF"/>
<rect x="48" y="87" width="12" height="11" fill="#EBB16E"/>
<rect x="60" y="87" width="11" height="11" fill="#EEB99F"/>
<rect x="71" y="87" width="12" height="11" fill="#ECB17E"/>
<rect x="83" y="87" width="11" height="11" fill="#E6D80F"/>
<rect x="94" y="87" width="12" height="11" fill="#E5E500"/>
<rect x="106" y="87" width="11" height="11" fill="#F1D5D0"/>
<rect x="117" y="87" width="69" height="11" fill="#F2F2F2"/>
<rect x="13" y="98" width="24" height="12" fill="#EDB48E"/>
<rect x="37" y="98" width="11" height="12" fill="#E8C32E"/>
<rect x="48" y="98" width="12" height="12" fill="#E5E500"/>
<rect x="60" y="98" width="11" height="12" fill="#EBB25E"/>
<rect x="71" y="98" width="12" height="12" fill="#D2E100"/>
<rect x="83" y="98" width="11" height="12" fill="#EBB25E"/>
<rect x="94" y="98" width="12" height="12" fill="#EDB48E"/>
<rect x="106" y="98" width="23" height="12" fill="#F2F2F2"/>
<rect x="129" y="98" width="11" height="12" fill="#F1E2E1"/>
<rect x="140" y="98" width="46" height="12" fill="#F2F2F2"/>
<rect x="13" y="110" width="12" height="11" fill="#EFC0AF"/>
<rect x="25" y="110" width="12" height="11" fill="#EDB48E"/>
<rect x="37" y="110" width="11" height="11" fill="#EBB16E"/>
<rect x="48" y="110" width="12" height="11" fill="#EBB25E"/>
<rect x="60" y="110" width="23" height="11" fill="#C0DD00"/>
<rect x="83" y="110" width="11" height="11" fill="#E5E500"/>
<rect x="94" y="110" width="12" height="11" fill="#ECB17E"/>
<rect x="106" y="110" width="11" height="11" fill="#EDB48E"/>
<rect x="117" y="110" width="12" height="11" fill="#EFC0AF"/>
<rect x="129" y="110" width="57" height="11" fill="#F2F2F2"/>
<rect x="13" y="121" width="12" height="12" fill="#F2F2F2"/>
<rect x="25" y="121" width="12" height="12" fill="#F0C9C0"/>
<rect x="37" y="121" width="11" height="12" fill="#EFC0AF"/>
<rect x="48" y="121" width="12" height="12" fill="#EBB25E"/>
<rect x="60" y="121" width="23" height="12" fill="#E8C32E"/>
<rect x="83" y="121" width="11" height="12" fill="#EBB16E"/>
<rect x="94" y="121" width="12" height="12" fill="#EBB25E"/>
<rect x="106" y="121" width="11" height="12" fill="#EBB16E"/>
<rect x="117" y="121" width="12" height="12" fill="#E5E500"/>
<rect x="129" y="121" width="11" height="12" fill="#EFC0AF"/>
<rect x="140" y="121" width="46" height="12" fill="#F2F2F2"/>
<rect x="13" y="133" width="12" height="11" fill="#EFC0AF"/>
<rect x="25" y="133" width="12" height="11" fill="#F1D5D0"/>
<rect x="37" y="133" width="11" height="11" fill="#F0C9C0"/>
<rect x="48" y="133" width="12" height="11" fill="#EBB16E"/>
<rect x="60" y="133" width="11" height="11" fill="#EBB25E"/>
<rect x="71" y="133" width="12" height="11" fill="#ECB17E"/>
<rect x="83" y="133" width="11" height="11" fill="#EDB48E"/>
<rect x="94" y="133" width="12" height="11" fill="#EBB25E"/>
<rect x="106" y="133" width="11" height="11" fill="#EBB16E"/>
<rect x="117" y="133" width="12" height="11" fill="#E9BB3E"/>
<rect x="129" y="133" width="11" height="11" fill="#EDB48E"/>
<rect x="140" y="133" width="12" height="11" fill="#EFC0AF"/>
<rect x="152" y="133" width="11" height="11" fill="#F1D5D0"/>
<rect x="163" y="133" width="23" height="11" fill="#F2F2F2"/>
<rect x="13" y="144" width="12" height="12" fill="#F1D5D0"/>
<rect x="25" y="144" width="12" height="12" fill="#EDB48E"/>
<rect x="37" y="144" width="11" height="12" fill="#EBB25E"/>
<rect x="48" y="144" width="12" height="12" fill="#EAB64E"/>
<rect x="60" y="144" width="11" height="12" fill="#EEB99F"/>
<rect x="71" y="144" width="12" height="12" fill="#EDB48E"/>
<rect x="83" y="144" width="11" height="12" fill="#F1D5D0"/>
<rect x="94" y="144" width="23" height="12" fill="#EEB99F"/>
<rect x="117" y="144" width="12" height="12" fill="#EFC0AF"/>
<rect x="129" y="144" width="11" height="12" fill="#F0C9C0"/>
<rect x="140" y="144" width="46" height="12" fill="#F2F2F2"/>
<rect x="13" y="156" width="12" height="11" fill="#EDB48E"/>
<rect x="25" y="156" width="12" height="11" fill="#E6D80F"/>
<rect x="37" y="156" width="11" height="11" fill="#EBB25E"/>
<rect x="48" y="156" width="12" height="11" fill="#ECB17E"/>
<rect x="60" y="156" width="23" height="11" fill="#F1E2E1"/>
<rect x="83" y="156" width="23" height="11" fill="#F2F2F2"/>
<rect x="106" y="156" width="11" height="11" fill="#EBB16E"/>
<rect x="117" y="156" width="12" height="11" fill="#EDB48E"/>
<rect x="129" y="156" width="11" height="11" fill="#F0C9C0"/>
<rect x="140" y="156" width="46" height="11" fill="#F2F2F2"/>
<rect x="13" y="167" width="12" height="12" fill="#E6D80F"/>
<rect x="25" y="167" width="12" height="12" fill="#EAB64E"/>
<rect x="37" y="167" width="23" height="12" fill="#EBB16E"/>
<rect x="60" y="167" width="11" height="12" fill="#EEB99F"/>
<rect x="71" y="167" width="46" height="12" fill="#F2F2F2"/>
<rect x="117" y="167" width="12" height="12" fill="#EFC0AF"/>
<rect x="129" y="167" width="11" height="12" fill="#F1D5D0"/>
<rect x="140" y="167" width="12" height="12" fill="#F1E2E1"/>
<rect x="152" y="167" width="11" height="12" fill="#F1D5D0"/>
<rect x="163" y="167" width="23" height="12" fill="#F2F2F2"/>
<rect x="13" y="179" width="24" height="11" fill="#EBB25E"/>
<rect x="37" y="179" width="11" height="11" fill="#EDB48E"/>
<rect x="48" y="179" width="12" height="11" fill="#E6D80F"/>
<rect x="60" y="179" width="11" height="11" fill="#EBB16E"/>
<rect x="71" y="179" width="35" height="11" fill="#F2F2F2"/>
<rect x="106" y="179" width="23" height="11" fill="#F1D5D0"/>
<rect x="129" y="179" width="57" height="11" fill="#F2F2F2"/>
<rect x="13" y="190" width="12" height="12" fill="#E7CC1F"/>
<rect x="25" y="190" width="12" height="12" fill="#7ACC00"/>
<rect x="37" y="190" width="11" height="12" fill="#E5E500"/>
<rect x="48" y="190" width="12" height="12" fill="#EDB48E"/>
<rect x="60" y="190" width="126" height="12" fill="#F2F2F2"/>
<rect x="13" y="202" width="24" height="11" fill="#8BD000"/>
<rect x="37" y="202" width="11" height="11" fill="#E8C32E"/>
<rect x="48" y="202" width="12" height="11" fill="#EDB48E"/>
<rect x="60" y="202" width="11" height="11" fill="#EBB16E"/>
<rect x="71" y="202" width="115" height="11" fill="#F2F2F2"/>
</g>
<rect x="12.5" y="39.5" width="173.0" height="173.0" fill="none" stroke="#000" stroke-width="1" shape-rendering="crispEdges"/>
<path d="M12.5 212V217M35.5 212V217M58.5 212V217M81.5 212V217M105.5 212V217M128.5 212V217M151.5 212V217M174.5 212V217M13 212.5H9M13 154.5H9M13 97.5H9M13 39.5H9" stroke="#000" stroke-width="1" fill="none" shape-rendering="crispEdges"/>
<text class="a" x="12.0" y="226.6">250000</text>
<text class="a" x="58.1" y="226.6">254000</text>
<text class="a" x="105.1" y="226.6">258000</text>
<text class="a" x="150.9" y="226.6">262000</text>
<text class="a" transform="translate(7.0,212.5) rotate(-90)">6e+05</text>
<text class="a" transform="translate(7.0,154.8) rotate(-90)">605000</text>
<text class="a" transform="translate(7.0,97.2) rotate(-90)">610000</text>
<text class="a" transform="translate(7.0,39.5) rotate(-90)">615000</text>
<rect x="195.5" y="39.5" width="9.0" height="173.0" fill="url(#g)" stroke="#000" stroke-width="1"/>
<text class="l" x="211" y="215.5">0</text>
<text class="l" x="211" y="187.5">5</text>
<text class="l" x="211" y="158.5">10</text>
<text class="l" x="211" y="129.5">15</text>
<text class="l" x="211" y="100.5">20</text>
<text class="l" x="211" y="71.5">25</text>
<text class="l" x="211" y="42.5">30</text>
<path d="M195.5 212.5H208M195.5 184.5H208M195.5 155.5H208M195.5 126.5H208M195.5 97.5H208M195.5 68.5H208M195.5 39.5H208" stroke="#000" stroke-width="1" fill="none" shape-rendering="crispEdges"/>
</g>
</svg></body></html>
